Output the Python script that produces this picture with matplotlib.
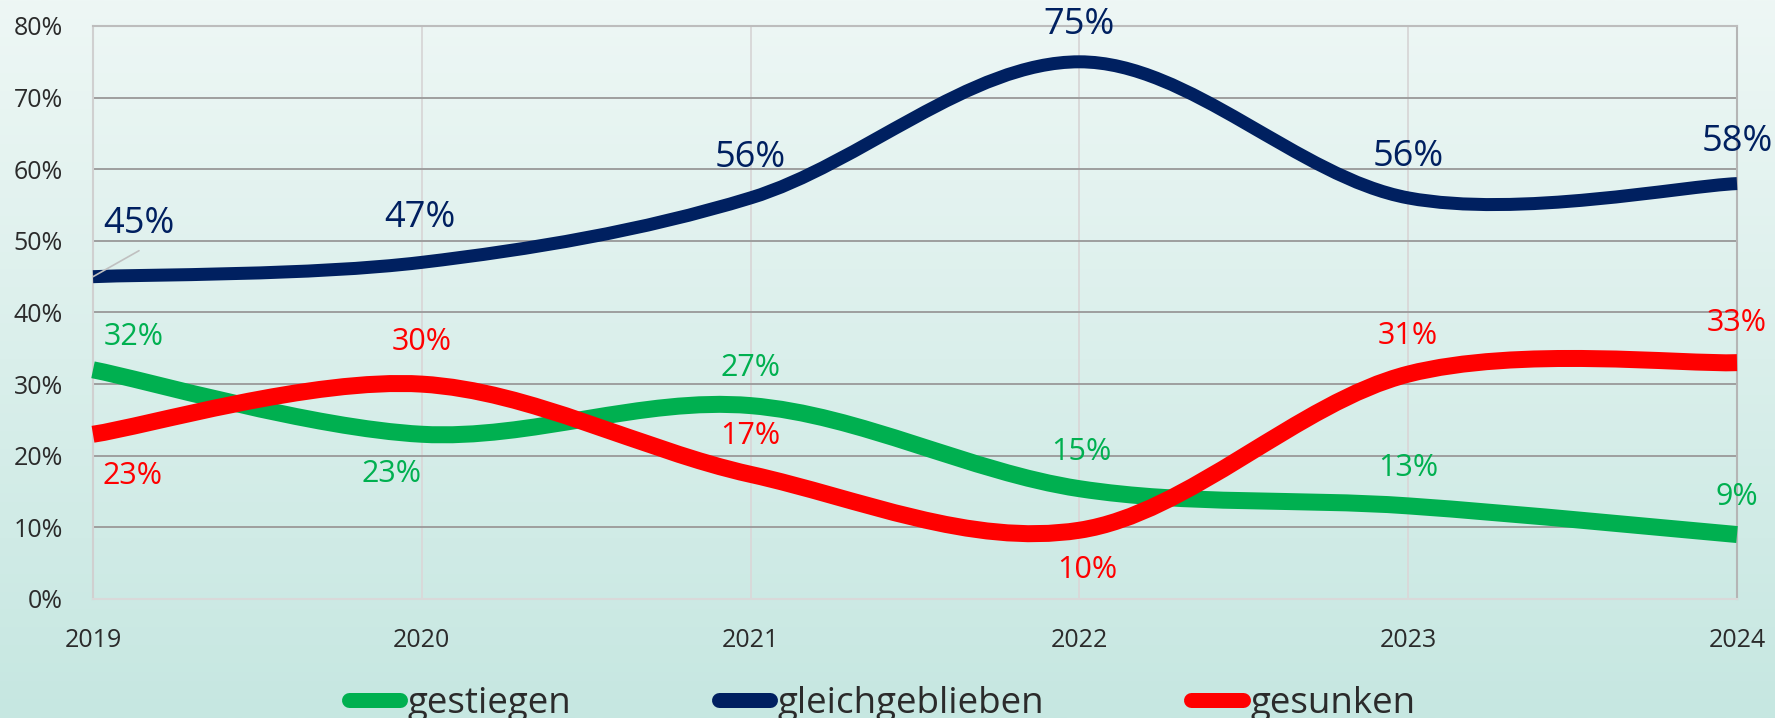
import numpy as np
import matplotlib.pyplot as plt
from matplotlib.path import Path
from matplotlib.patches import PathPatch
from matplotlib.lines import Line2D

# data
years = [2019, 2020, 2021, 2022, 2023, 2024]
gestiegen = [32, 23, 27, 15.4, 13, 9]
gleichgeblieben = [45, 47, 56, 75, 56, 58]
gesunken = [23, 30, 17.4, 9.6, 31.4, 33]
y_ticks = [0, 10, 20, 30, 40, 50, 60, 70, 80]

GREEN = '#00b050'
NAVY = '#002060'
RED = '#ff0000'
TEXT = '#2b2b2b'
PX = 72 / 100  # points per pixel at dpi 100

plt.rcParams['font.family'] = ['Open Sans', 'DejaVu Sans']


def smooth_path(x, y):
    # excel-like smoothed line: catmull-rom as cubic bezier
    x = np.asarray(x, float)
    y = np.asarray(y, float)
    n = len(x)
    verts = [(x[0], y[0])]
    codes = [Path.MOVETO]
    for i in range(n - 1):
        i0 = max(i - 1, 0)
        i3 = min(i + 2, n - 1)
        c1 = (x[i] + (x[i + 1] - x[i0]) / 6, y[i] + (y[i + 1] - y[i0]) / 6)
        c2 = (x[i + 1] - (x[i3] - x[i]) / 6, y[i + 1] - (y[i3] - y[i]) / 6)
        verts += [c1, c2, (x[i + 1], y[i + 1])]
        codes += [Path.CURVE4] * 3
    return Path(verts, codes)


fig = plt.figure(figsize=(17.75, 7.18), dpi=100)

# gradient background
bg = fig.add_axes([0, 0, 1, 1], zorder=-10)
top = np.array([238, 247, 245]) / 255
bot = np.array([198, 231, 225]) / 255
t = np.linspace(0, 1, 256)[:, None]
grad = top[None, :] * (1 - t) + bot[None, :] * t
bg.imshow(grad[:, None, :], aspect='auto', extent=[0, 1, 0, 1])
bg.axis('off')

ax = fig.add_axes([93 / 1775, 119 / 718, 1644 / 1775, 573 / 718])
ax.patch.set_alpha(0)

ax.set_xlim(years[0], years[-1])
ax.set_ylim(0, 80)
ax.set_yticks(y_ticks)
ax.set_yticklabels([f'{v}%' for v in y_ticks])
ax.set_xticks(years)
ax.set_xticklabels([str(v) for v in years])
ax.tick_params(axis='y', length=0, pad=30 * PX, labelsize=18, labelcolor=TEXT)
ax.tick_params(axis='x', length=0, pad=29 * PX, labelsize=18, labelcolor=TEXT)

ax.grid(axis='y', color='#9e9e9e', linewidth=1.4)
ax.grid(axis='x', color='#d9d9d9', linewidth=1.4)
ax.set_axisbelow(True)
ax.spines['left'].set_color('#d0d0d0')
ax.spines['bottom'].set_color('#d9d9d9')
ax.spines['right'].set_color('#b5b5b5')
ax.spines['top'].set_color('#bdbdbd')
for s in ax.spines.values():
    s.set_linewidth(1.5)

series = [
    (gestiegen, GREEN, 17 * PX, 22),
    (gleichgeblieben, NAVY, 13 * PX, 26),
    (gesunken, RED, 17 * PX, 22),
]
for vals, col, lw, fs in series:
    ax.add_patch(PathPatch(smooth_path(years, vals), fill=False, edgecolor=col,
                           linewidth=lw, capstyle='butt', joinstyle='round',
                           zorder=3, clip_on=False))

# label offsets in pixels (dx, dy up)
offsets = {
    'gestiegen': [(41, 33), (-30, -40), (0, 38), (2, 37), (0, 38), (0, 38)],
    'gleichgeblieben': [(46, 53), (-2, 44), (0, 40), (0, 37), (0, 41), (0, 42)],
    'gesunken': [(39, -42), (0, 42), (0, 38), (8, -40), (0, 38), (0, 40)],
}
names = ['gestiegen', 'gleichgeblieben', 'gesunken']
for name, (vals, col, lw, fs) in zip(names, series):
    for xv, v, (dx, dy) in zip(years, vals, offsets[name]):
        ax.annotate(f'{v:.0f}%', (xv, v), xytext=(dx * PX, dy * PX),
                    textcoords='offset points', ha='center', va='center',
                    fontsize=fs, color=col, zorder=5, annotation_clip=False)

# leader line for first navy label
ax.annotate('', (years[0], gleichgeblieben[0]), xytext=(46 * PX, 26 * PX),
            textcoords='offset points',
            arrowprops=dict(arrowstyle='-', color='#c0c0c0', lw=1.2,
                            shrinkA=0, shrinkB=0), zorder=4,
            annotation_clip=False)

handles = [Line2D([], [], color=c, lw=15 * PX, solid_capstyle='round')
           for c in (GREEN, NAVY, RED)]
leg = fig.legend(handles, names, loc='center', bbox_to_anchor=(0.497, 0.019),
                 ncol=3, frameon=False, fontsize=26.5, handlelength=1.4,
                 handletextpad=0.2, columnspacing=4.0, borderpad=0,
                 borderaxespad=0)
for txt in leg.get_texts():
    txt.set_color(TEXT)

fig.savefig('out.png', dpi=100)
